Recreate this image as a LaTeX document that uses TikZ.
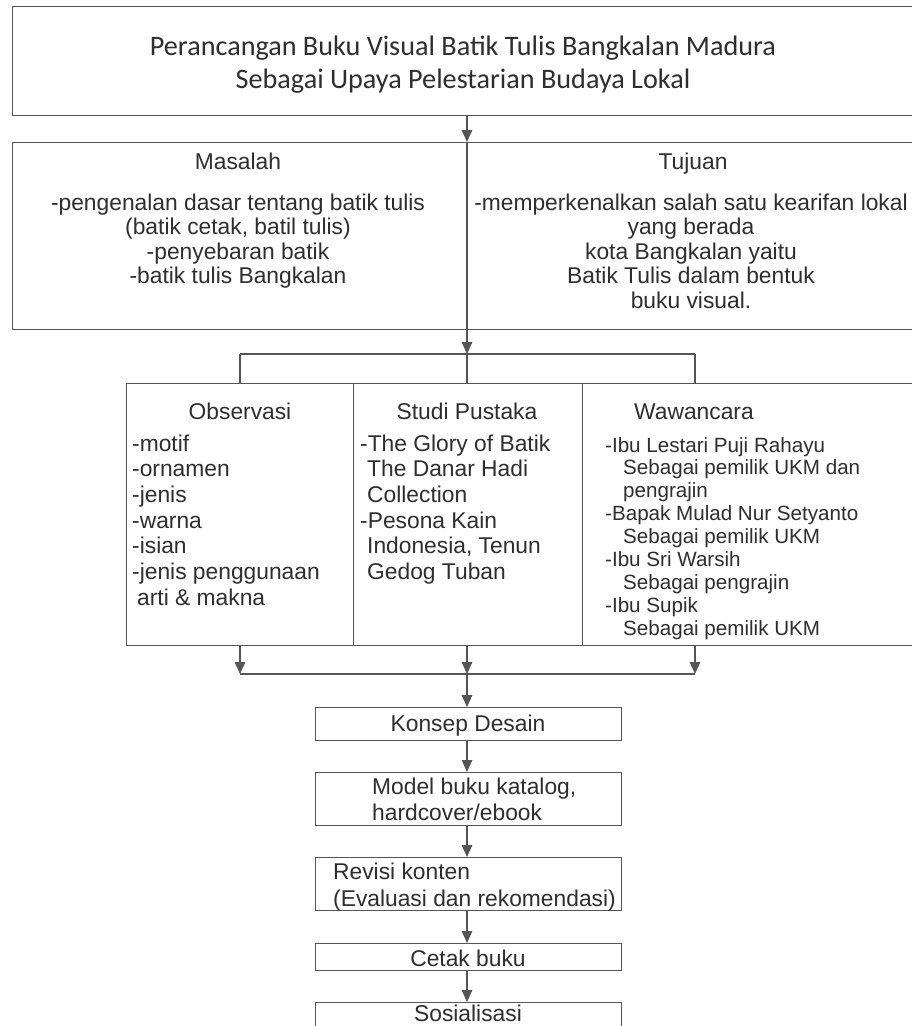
\documentclass[tikz,border=0pt]{standalone}
\usepackage{fontspec}
\setmainfont{Liberation Sans}
\newfontfamily\calfont{Carlito}
\usetikzlibrary{arrows.meta}
\definecolor{lc}{HTML}{555555}
\definecolor{tc}{HTML}{2E2E2E}
\newcommand\clines[2]{\vtop{\baselineskip=#1\lineskiplimit=-100pt\relax\halign{\hfil##\hfil\cr#2\crcr}}}
\newcommand\llines[2]{\vtop{\baselineskip=#1\lineskiplimit=-100pt\relax\halign{##\hfil\cr#2\crcr}}}
\begin{document}
\begin{tikzpicture}[x=1pt,y=-1pt,
  box/.style={draw=lc,line width=1.4pt,anchor=north west,inner sep=0pt},
  txt/.style={inner sep=0pt,text=tc},
  arr/.style={draw=lc,line width=1.4pt,-{Triangle[length=12pt,width=10.5pt]}},
  ln/.style={draw=lc,line width=1.4pt},
  fA/.style={font=\fontsize{22.8}{25}\selectfont},
  fB/.style={font=\fontsize{20.6}{23}\selectfont},
  fT/.style={font=\calfont\fontsize{28.2}{33}\selectfont}]
\path[use as bounding box] (0,0) rectangle (912,1026);
\clip (0,0) rectangle (912,1026);
\fill[white] (0,0) rectangle (912,1026);
% boxes
\node[box,minimum width=930pt,minimum height=109pt] (top) at (12,6) {};
\node[box,minimum width=930pt,minimum height=187pt] (prob) at (12,142) {};
\node[box,minimum width=227pt,minimum height=262pt] (obs) at (126,383) {};
\node[box,minimum width=229pt,minimum height=262pt] (stud) at (353,383) {};
\node[box,minimum width=368pt,minimum height=262pt] (waw) at (582,383) {};
\node[box,minimum width=306pt,minimum height=33pt] (konsep) at (315,707) {};
\node[box,minimum width=306pt,minimum height=53pt] (model) at (315,772) {};
\node[box,minimum width=306pt,minimum height=53pt] (revisi) at (315,857) {};
\node[box,minimum width=306pt,minimum height=27pt] (cetak) at (315,943) {};
\node[box,minimum width=306pt,minimum height=40pt] (sos) at (315,1002) {};
% coordinates
\coordinate (dv) at (467,0);
\coordinate (barL) at (240,354);
\coordinate (barM) at (467,354);
\coordinate (barR) at (695,354);
\coordinate (bL) at (240,674);
\coordinate (bM) at (467,674);
\coordinate (bR) at (695,674);
% connectors
\draw[arr] (top.south -| dv) -- (prob.north -| dv);
\draw[ln] (prob.north -| dv) -- (prob.south -| dv);
\draw[arr] (prob.south -| dv) -- (barM);
\draw[ln] (barL) -- (barR);
\draw[ln] (barL) -- (barL |- obs.north);
\draw[ln] (barM) -- (barM |- stud.north);
\draw[ln] (barR) -- (barR |- waw.north);
\draw[arr] (bL |- obs.south) -- (bL);
\draw[arr] (bM |- stud.south) -- (bM);
\draw[arr] (bR |- waw.south) -- (bR);
\draw[ln] (bL) -- (bR);
\draw[arr] (bM) -- (konsep.north -| bM);
\draw[arr] (konsep.south -| bM) -- (model.north -| bM);
\draw[arr] (model.south -| bM) -- (revisi.north -| bM);
\draw[arr] (revisi.south -| bM) -- (cetak.north -| bM);
\draw[arr] (cetak.south -| bM) -- (sos.north -| bM);
% texts
\node[txt,fT,anchor=base] (title) at (463,55) {\clines{33pt}{Perancangan Buku Visual Batik Tulis Bangkalan Madura\cr Sebagai Upaya Pelestarian Budaya Lokal}};
\node[txt,fA,anchor=base] (mash) at (238,169) {Masalah};
\node[txt,fA,anchor=base] (masi) at (238,210) {\clines{24.5pt}{-pengenalan dasar tentang batik tulis\cr (batik cetak, batil tulis)\cr -penyebaran batik\cr -batik tulis Bangkalan}};
\node[txt,fA,anchor=base] (tujh) at (693,169) {Tujuan};
\node[txt,fA,anchor=base] (tuji) at (691,210) {\clines{24.5pt}{-memperkenalkan salah satu kearifan lokal\cr yang berada\cr kota Bangkalan yaitu\cr Batik Tulis dalam bentuk\cr buku visual.}};
\node[txt,fA,anchor=base] (obsh) at (240,419) {Observasi};
\node[txt,fA,anchor=base west] (obsi) at (132,451) {\llines{25.7pt}{-motif\cr -ornamen\cr -jenis\cr -warna\cr -isian\cr -jenis penggunaan\cr \kern5pt arti \& makna}};
\node[txt,fA,anchor=base] (studh) at (467,419) {Studi Pustaka};
\node[txt,fA,anchor=base west] (studi) at (360,451) {\llines{25.7pt}{-The Glory of Batik\cr \kern7pt The Danar Hadi\cr \kern7pt Collection\cr -Pesona Kain\cr \kern7pt Indonesia, Tenun\cr \kern7pt Gedog Tuban}};
\node[txt,fA,anchor=base] (wawh) at (694,419) {Wawancara};
\node[txt,fB,anchor=base west] (wawi) at (605,452) {\llines{22.9pt}{-Ibu Lestari Puji Rahayu\cr \kern18pt Sebagai pemilik UKM dan\cr \kern18pt pengrajin\cr -Bapak Mulad Nur Setyanto\cr \kern18pt Sebagai pemilik UKM\cr -Ibu Sri Warsih\cr \kern18pt Sebagai pengrajin\cr -Ibu Supik\cr \kern18pt Sebagai pemilik UKM}};
\node[txt,fA,anchor=base] (konsept) at (468,731) {Konsep Desain};
\node[txt,fA,anchor=base west] (modelt) at (372,794) {\llines{26pt}{Model buku katalog,\cr hardcover/ebook}};
\node[txt,fA,anchor=base west] (revisit) at (333,879) {\llines{27pt}{Revisi konten\cr (Evaluasi dan rekomendasi)}};
\node[txt,fA,anchor=base] (cetakt) at (468,966) {Cetak buku};
\node[txt,fA,anchor=base] (sost) at (468,1021) {Sosialisasi};
\end{tikzpicture}
\end{document}
